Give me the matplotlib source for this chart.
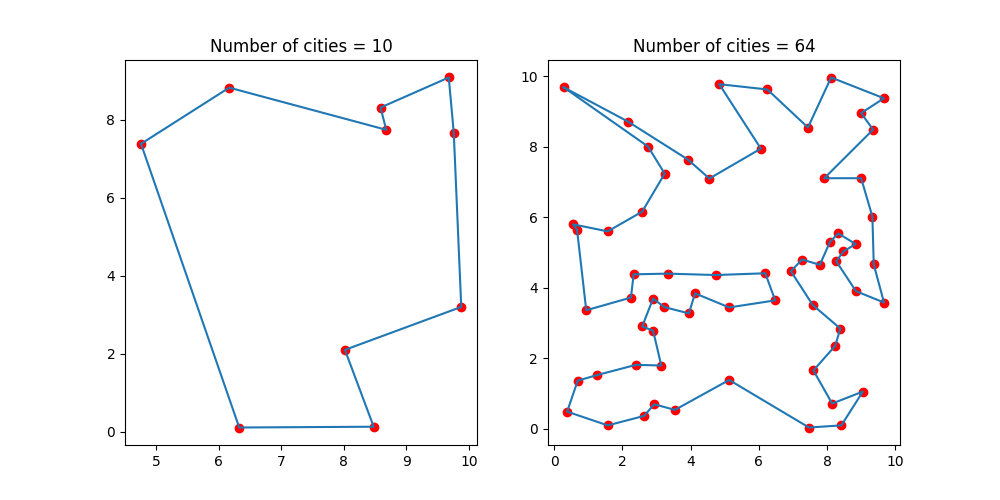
import matplotlib
matplotlib.use("Agg")
import matplotlib.pyplot as plt

# tour order (closed loop)
small_x = [4.76, 6.17, 8.68, 8.59, 9.68, 9.76, 9.88, 8.02, 8.48, 6.33]
small_y = [7.38, 8.82, 7.74, 8.31, 9.08, 7.67, 3.20, 2.10, 0.13, 0.11]

big_x = [0.28, 2.75, 3.24, 2.58, 1.57, 0.55, 0.67, 0.94, 2.25, 2.33,
         3.33, 4.74, 6.19, 6.48, 5.13, 4.13, 3.95, 3.23, 2.90, 2.58,
         2.90, 3.14, 2.40, 1.26, 0.69, 0.38, 1.57, 2.64, 2.93, 3.54,
         5.13, 7.47, 8.42, 9.05, 8.15, 7.60, 8.24, 8.39, 7.58, 6.94,
         7.27, 7.79, 8.09, 8.33, 8.84, 8.48, 8.27, 8.85, 9.67, 9.37,
         9.33, 9.00, 7.92, 9.35, 9.00, 9.67, 8.12, 7.44, 6.25, 4.84,
         6.06, 4.55, 3.92, 2.16]
big_y = [9.69, 8.01, 7.24, 6.16, 5.60, 5.80, 5.65, 3.36, 3.72, 4.38,
         4.40, 4.36, 4.41, 3.64, 3.44, 3.84, 3.27, 3.45, 3.69, 2.90,
         2.78, 1.79, 1.81, 1.52, 1.36, 0.48, 0.09, 0.36, 0.69, 0.53,
         1.38, 0.03, 0.09, 1.05, 0.71, 1.65, 2.35, 2.84, 3.51, 4.47,
         4.80, 4.65, 5.31, 5.54, 5.24, 5.03, 4.75, 3.90, 3.58, 4.66,
         6.02, 7.11, 7.11, 8.49, 8.96, 9.38, 9.97, 8.55, 9.63, 9.78,
         7.95, 7.10, 7.64, 8.72]


def draw_tour(ax, xs, ys):
    ax.scatter(xs, ys, c="red")
    ax.plot(xs + xs[:1], ys + ys[:1])
    ax.set_title(f"Number of cities = {len(xs)}")


fig, axes = plt.subplots(1, 2, figsize=(10, 5), dpi=100)
draw_tour(axes[0], small_x, small_y)
draw_tour(axes[1], big_x, big_y)

plt.savefig("out.png")
